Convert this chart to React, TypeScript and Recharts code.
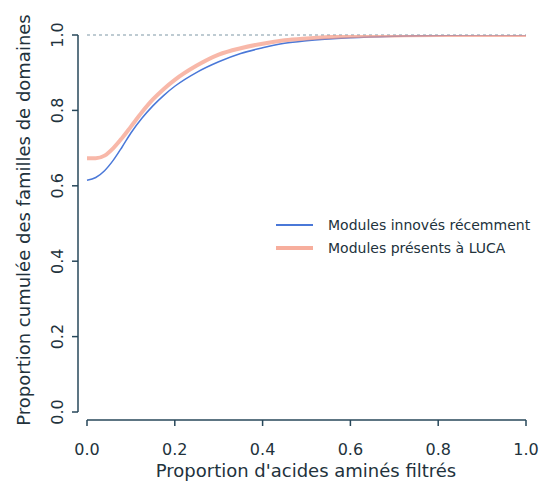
import React from 'react';
import { LineChart, Line, XAxis, YAxis, ReferenceLine } from 'recharts';

const xValues = [0, 0.02, 0.04, 0.06, 0.08, 0.1, 0.125, 0.15, 0.175, 0.2, 0.25, 0.3, 0.35, 0.4, 0.45, 0.5, 0.6, 0.7, 0.8, 0.9, 1.0];
const recentValues = [0.615, 0.622, 0.64, 0.668, 0.703, 0.74, 0.779, 0.812, 0.84, 0.864, 0.901, 0.929, 0.951, 0.966, 0.978, 0.985, 0.993, 0.997, 0.999, 1.0, 1.0];
const lucaValues = [0.673, 0.673, 0.68, 0.7, 0.727, 0.757, 0.795, 0.829, 0.857, 0.881, 0.919, 0.948, 0.965, 0.977, 0.986, 0.991, 0.997, 0.999, 1.0, 1.0, 1.0];
const xTicks = [0, 0.2, 0.4, 0.6, 0.8, 1.0];
const yTicks = [0, 0.2, 0.4, 0.6, 0.8, 1.0];
const seriesNames = ['Modules innovés récemment', 'Modules présents à LUCA'];
const xTitle = "Proportion d'acides aminés filtrés";
const yTitle = 'Proportion cumulée des familles de domaines';

const data = xValues.map((x, i) => ({ x, recent: recentValues[i], luca: lucaValues[i] }));

const FONT = '"DejaVu Sans", sans-serif';
const TEXT = '#22323c';
const AXIS = '#27475a';
const BLUE = '#4a78d8';
const RED = '#f59a85';

const X_MIN = -0.0205;
const Y_MIN = -0.0212;

const XTick = (props: any) => {
  const { x, payload } = props;
  return (
    <text x={x} y={455} textAnchor="middle" fontFamily={FONT} fontSize={16} fill={TEXT}>
      {payload.value.toFixed(1)}
    </text>
  );
};

const YTick = (props: any) => {
  const { y, payload } = props;
  const bx = 63;
  return (
    <text x={bx} y={y} transform={`rotate(-90, ${bx}, ${y})`} textAnchor="middle" fontFamily={FONT} fontSize={16} fill={TEXT}>
      {payload.value.toFixed(1)}
    </text>
  );
};

const LegendBox = () => (
  <div style={{ position: 'absolute', left: 276, top: 214, fontFamily: FONT, fontSize: 14, color: TEXT }}>
    {seriesNames.map((n, i) => (
      <div key={n} style={{ display: 'flex', alignItems: 'center', height: 22.5 }}>
        <div style={{ width: 37, height: i === 0 ? 2 : 4, background: i === 0 ? BLUE : RED, opacity: i === 0 ? 1 : 0.8, marginRight: 15 }} />
        <span>{n}</span>
      </div>
    ))}
  </div>
);

export default function App() {
  return (
    <div style={{ position: 'fixed', left: 0, top: 0, width: 542, height: 482, background: '#fff' }}>
      <LineChart width={542} height={482} data={data} margin={{ top: 35, right: 16, bottom: 30, left: 28 }}>
        <XAxis
          dataKey="x"
          type="number"
          domain={[X_MIN, 1]}
          ticks={xTicks}
          allowDataOverflow
          axisLine={false}
          tickLine={{ stroke: AXIS, strokeWidth: 1.5 }}
          tickSize={6}
          tick={<XTick />}
          height={32}
          label={() => (
            <text x={306} y={477} textAnchor="middle" fontFamily={FONT} fontSize={18} fill={TEXT}>{xTitle}</text>
          )}
        />
        <YAxis
          type="number"
          domain={[Y_MIN, 1]}
          ticks={yTicks}
          allowDataOverflow
          axisLine={false}
          tickLine={{ stroke: AXIS, strokeWidth: 1.5 }}
          tickSize={6}
          tick={<YTick />}
          width={50}
          label={() => (
            <text x={30} y={220} transform="rotate(-90, 30, 220)" textAnchor="middle" fontFamily={FONT} fontSize={18} fill={TEXT}>{yTitle}</text>
          )}
        />
        <ReferenceLine segment={[{ x: 0, y: Y_MIN }, { x: 1, y: Y_MIN }]} stroke={AXIS} strokeWidth={1.5} ifOverflow="visible" />
        <ReferenceLine segment={[{ x: X_MIN, y: 0 }, { x: X_MIN, y: 1 }]} stroke={AXIS} strokeWidth={1.5} ifOverflow="visible" />
        <ReferenceLine segment={[{ x: 0, y: 1 }, { x: 1, y: 1 }]} stroke="#7f98a6" strokeWidth={1.2} strokeDasharray="3 3" ifOverflow="visible" />
        <Line dataKey="recent" type="monotone" stroke={BLUE} strokeWidth={1.5} dot={false} isAnimationActive={false} />
        <Line dataKey="luca" type="monotone" stroke={RED} strokeWidth={4} strokeOpacity={0.7} dot={false} isAnimationActive={false} />
      </LineChart>
      <LegendBox />
    </div>
  );
}
